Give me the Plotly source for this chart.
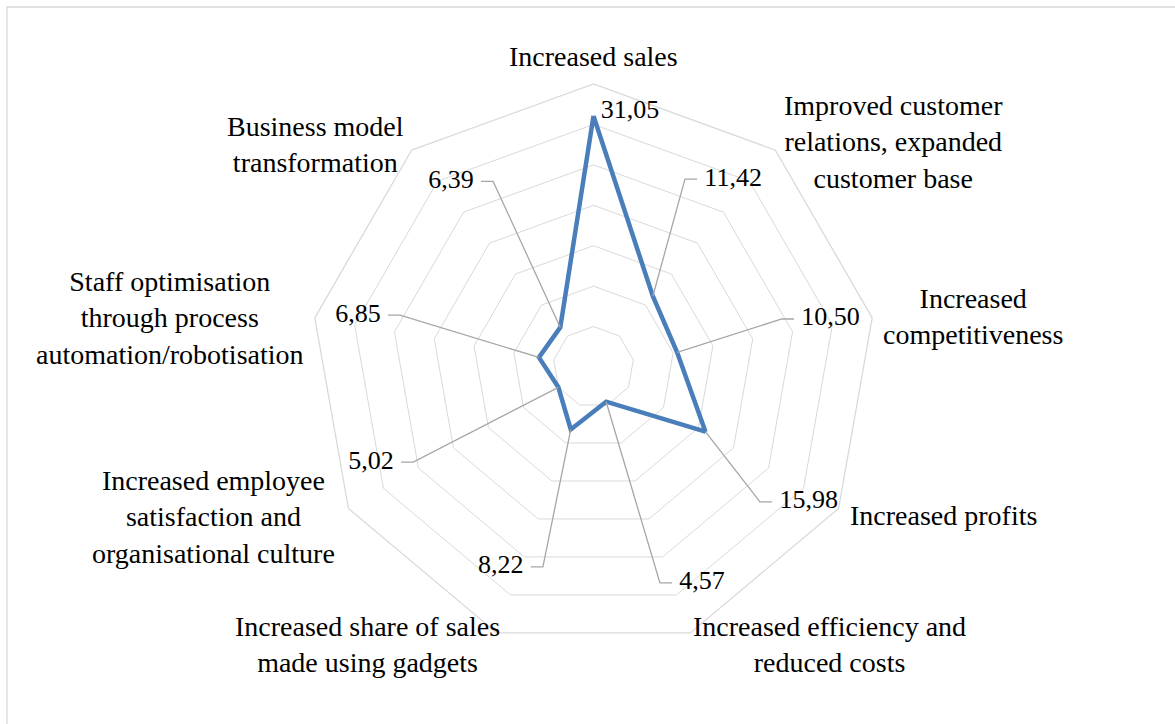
import math
import plotly.graph_objects as go

# ---------------- data ----------------
categories = [
    "Increased sales",
    "Improved customer relations, expanded customer base",
    "Increased competitiveness",
    "Increased profits",
    "Increased efficiency and reduced costs",
    "Increased share of sales made using gadgets",
    "Increased employee satisfaction and organisational culture",
    "Staff optimisation through process automation/robotisation",
    "Business model transformation",
]
tick_labels = [
    "Increased sales",
    "Improved customer<br>relations, expanded<br>customer base",
    "Increased<br>competitiveness",
    "Increased profits",
    "Increased efficiency and<br>reduced costs",
    "Increased share of sales<br>made using gadgets",
    "Increased employee<br>satisfaction and<br>organisational culture",
    "Staff optimisation<br>through process<br>automation/robotisation",
    "Business model<br>transformation",
]
values = [31.05, 11.42, 10.50, 15.98, 4.57, 8.22, 5.02, 6.85, 6.39]
value_labels = [f"{v:.2f}".replace(".", ",") for v in values]

# ---------------- callout layout (axis units / degrees clockwise from top) ----------------
callout_r = [31.6, 25.85, 24.04, 26.5, 27.94, 25.5, 25.2, 24.77, 26.1]
callout_theta = [0.0, 25.95, 75.7, 129.0, 162.9, 194.2, 242.2, 285.0, 331.6]
callout_side = [1, 1, 1, 1, 1, -1, -1, -1, -1]
callout_leader = [False, True, True, True, True, True, True, True, True]
TICK = 1.5   # horizontal stub length (axis units)
GAP = 0.9    # gap between stub end and label text (axis units)

# category label placement: anchors and pixel nudges
cat_xanchor = ["center", "left", "left", "left", "left", "right", "right", "right", "right"]
cat_yanchor = ["bottom", "middle", "middle", "middle", "middle", "middle", "middle", "middle", "middle"]
cat_xshift = [0, 7, 9, 9, 1, 5, -11, -9, -6]
cat_yshift = [10, 8, 1, -7, -12, -12, -8, 0, 6]

n = len(categories)
step = 360.0 / n
RMAX = 35


def shift_h(r, t, dx):
    x = r * math.sin(math.radians(t)) + dx
    y = r * math.cos(math.radians(t))
    return math.hypot(x, y), math.degrees(math.atan2(x, y)) % 360


lead_r, lead_t = [], []
txt_r, txt_t, txt_pos = [], [], []
for i in range(n):
    rb, tb, s = callout_r[i], callout_theta[i], callout_side[i]
    if callout_leader[i]:
        re, te = shift_h(rb, tb, s * TICK)
        lead_r += [values[i], rb, re, None]
        lead_t += [i * step, tb, te, None]
        tr, tt = shift_h(rb, tb, s * (TICK + GAP))
    else:
        tr, tt = shift_h(rb, tb, s * GAP)
    txt_r.append(tr)
    txt_t.append(tt)
    txt_pos.append("middle right" if s > 0 else "middle left")

FONT = "Liberation Serif"
GRID = "#d9d9d9"
W, H = 1175, 724

fig = go.Figure()

fig.add_trace(go.Scatterpolar(
    r=values + [values[0]],
    theta=categories + [categories[0]],
    mode="lines",
    line=dict(color="#4a7ebb", width=4.5),
    subplot="polar",
    showlegend=False,
))

fig.add_trace(go.Scatterpolar(
    r=lead_r,
    theta=lead_t,
    mode="lines",
    line=dict(color="#a6a6a6", width=1.3),
    subplot="polar2",
    showlegend=False,
))

fig.add_trace(go.Scatterpolar(
    r=txt_r,
    theta=txt_t,
    mode="text",
    text=value_labels,
    textposition=txt_pos,
    textfont=dict(family=FONT, size=26, color="black"),
    subplot="polar2",
    showlegend=False,
))

dom_x = [310.5 / W, 876.5 / W]
dom_y = [1 - 650 / H, 1 - 84 / H]

# category labels placed just outside the outer ring vertex of each category
cx = (dom_x[0] + dom_x[1]) / 2
cy = (dom_y[0] + dom_y[1]) / 2
rad_px = (dom_x[1] - dom_x[0]) * W / 2
annotations = []
for i in range(n):
    a = math.radians(i * step)
    annotations.append(dict(
        x=cx + rad_px * math.sin(a) / W,
        y=cy + rad_px * math.cos(a) / H,
        xref="paper", yref="paper",
        text=tick_labels[i],
        showarrow=False,
        xanchor=cat_xanchor[i], yanchor=cat_yanchor[i],
        xshift=cat_xshift[i], yshift=cat_yshift[i],
        align="center",
        font=dict(family=FONT, size=28, color="black"),
    ))

fig.update_layout(
    width=W,
    height=H,
    margin=dict(l=0, r=0, t=0, b=0),
    font=dict(family=FONT, color="black"),
    paper_bgcolor="white",
    polar=dict(
        domain=dict(x=dom_x, y=dom_y),
        gridshape="linear",
        bgcolor="white",
        radialaxis=dict(
            range=[0, RMAX], dtick=5, tick0=0,
            showticklabels=False, ticks="", showline=False,
            gridcolor=GRID, gridwidth=1.3,
        ),
        angularaxis=dict(
            type="category",
            rotation=90,
            direction="clockwise",
            showgrid=False,
            showline=True, linecolor=GRID, linewidth=1.3,
            ticks="",
            showticklabels=False,
        ),
    ),
    polar2=dict(
        domain=dict(x=dom_x, y=dom_y),
        bgcolor="rgba(0,0,0,0)",
        radialaxis=dict(range=[0, RMAX], visible=False),
        angularaxis=dict(
            type="linear",
            rotation=90, direction="clockwise", visible=False,
        ),
    ),
    annotations=annotations,
    shapes=[dict(
        type="rect", xref="paper", yref="paper",
        x0=7 / W, x1=1.02, y0=-0.02, y1=1 - 7 / H,
        line=dict(color=GRID, width=1.3), fillcolor="rgba(0,0,0,0)",
        layer="below",
    )],
)

fig.write_html("out.html")
